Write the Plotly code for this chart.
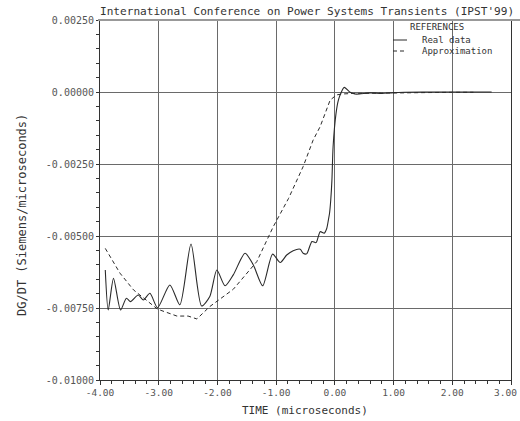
import plotly.graph_objects as go

# ---- data ----
real_t = [-3.91, -3.86, -3.77, -3.65, -3.55, -3.48, -3.35, -3.26, -3.15, -3.02,
          -2.81, -2.64, -2.45, -2.27, -2.13, -2.01, -1.87, -1.73, -1.53, -1.39,
          -1.23, -1.06, -0.93, -0.82, -0.71, -0.59, -0.54, -0.48, -0.39, -0.32,
          -0.25, -0.18, -0.14, -0.11, -0.09, -0.07, -0.05, -0.03, 0.02, 0.06,
          0.10, 0.16, 0.26, 0.34, 0.42, 0.60, 0.80, 1.00, 1.50, 2.00, 2.67]
real_g = [-0.00618, -0.00757, -0.00647, -0.00757, -0.00716, -0.00728, -0.00705, -0.00722, -0.00699, -0.00749,
          -0.00670, -0.00739, -0.00528, -0.00743, -0.00710, -0.00618, -0.00673, -0.00635, -0.00560, -0.00600,
          -0.00673, -0.00563, -0.00592, -0.00566, -0.00551, -0.00546, -0.00560, -0.00562, -0.00519, -0.00523,
          -0.00485, -0.00490, -0.00475, -0.00444, -0.00420, -0.00375, -0.00306, -0.00190, -0.00074, -0.00028,
          -0.00005, 0.00016, -0.00001, -0.00007, -0.00007, -0.00003, -0.00005, -0.00002, 0.0, 0.0, 0.0]

approx_t = [-3.91, -3.66, -3.43, -3.02, -2.69, -2.50, -2.35, -2.13, -1.73, -1.33,
            -1.05, -0.79, -0.54, -0.37, -0.25, -0.17, -0.08, 0.03, 0.12, 0.30,
            0.60, 1.00, 1.50, 2.00, 2.36]
approx_g = [-0.00543, -0.00629, -0.00687, -0.00754, -0.00778, -0.00778, -0.00788, -0.00745, -0.00685, -0.00589,
            -0.00468, -0.00370, -0.00259, -0.00167, -0.00120, -0.00074, -0.00028, -0.00010, -0.00007, -0.00005,
            -0.00004, -0.00003, -0.00002, -0.00001, -0.00001]

x_ticks = [-4, -3, -2, -1, 0, 1, 2, 3]
x_labels = ["-4.00", "-3.00", "-2.00", "-1.00", "0.00", "1.00", "2.00", "3.00"]
y_ticks = [0.0025, 0.0, -0.0025, -0.005, -0.0075, -0.01]
y_labels = ["0.00250", "0.00000", "-0.00250", "-0.00500", "-0.00750", "-0.01000"]

title_text = "International Conference on Power Systems Transients (IPST'99)"
x_title = "TIME (microseconds)"
y_title = "DG/DT (Siemens/microseconds)"
legend_title = "REFERENCES"
series_names = ["Real data", "Approximation"]

FONT = "DejaVu Sans Mono"
LINE = "#2a2a2a"

fig = go.Figure()
fig.add_trace(go.Scatter(x=real_t, y=real_g, mode="lines", name=series_names[0],
                         line=dict(color=LINE, width=1.1, shape="spline", smoothing=0.7)))
fig.add_trace(go.Scatter(x=approx_t, y=approx_g, mode="lines", name=series_names[1],
                         line=dict(color=LINE, width=1, dash="4px,3px")))

W, H = 520, 421
L, R, T, B = 100, 9, 20, 41
pw, ph = W - L - R, H - T - B


def px(x):
    return (x - L) / pw


def py(y):
    return (H - B - y) / ph


fig.update_layout(
    width=W, height=H,
    margin=dict(l=L, r=R, t=T, b=B, autoexpand=False),
    paper_bgcolor="white", plot_bgcolor="white",
    showlegend=False,
    font=dict(family=FONT, color="#444"),
)
# the last x label would spill past the page edge; it is drawn as a right-aligned annotation instead
x_ticktext = x_labels[:-1] + [""]
fig.update_xaxes(
    range=[-4, 3], tickvals=x_ticks, ticktext=x_ticktext,
    tickfont=dict(size=9.5, color="#555", family=FONT),
    automargin=False,
    showgrid=True, gridcolor="#6a6a6a", gridwidth=1,
    showline=True, linecolor="#333", linewidth=1,
    ticks="outside", ticklen=4, tickcolor="#333",
    minor=dict(dtick=0.2, ticks="outside", ticklen=3, tickcolor="#333", showgrid=False),
    zeroline=False,
)
fig.update_yaxes(
    range=[-0.01, 0.0025], tickvals=y_ticks, ticktext=y_labels,
    tickfont=dict(size=10, color="#555", family=FONT),
    ticklabeloverflow="allow", automargin=False,
    showgrid=True, gridcolor="#6a6a6a", gridwidth=1,
    showline=True, linecolor="#333", linewidth=1, mirror=True,
    ticks="outside", ticklen=3, tickcolor="#333",
    minor=dict(dtick=0.0005, ticks="outside", ticklen=3, tickcolor="#333", showgrid=False),
    zeroline=False,
)

ann = [
    dict(text=title_text, x=px(98), y=py(11), xref="paper", yref="paper",
         xanchor="left", yanchor="middle", showarrow=False,
         font=dict(size=11.1, color="#333", family=FONT)),
    dict(text=x_title, x=px(305), y=py(410), xref="paper", yref="paper",
         xanchor="center", yanchor="middle", showarrow=False,
         font=dict(size=11, color="#333", family=FONT)),
    dict(text=y_title, x=px(22), y=py(215), xref="paper", yref="paper",
         xanchor="center", yanchor="middle", showarrow=False, textangle=-90,
         font=dict(size=12, color="#333", family=FONT)),
    dict(text=legend_title, x=px(408), y=py(27), xref="paper", yref="paper",
         xanchor="left", yanchor="middle", showarrow=False,
         font=dict(size=9, color="#333", family=FONT)),
    dict(text=series_names[0], x=px(420), y=py(40), xref="paper", yref="paper",
         xanchor="left", yanchor="middle", showarrow=False,
         font=dict(size=9, color="#333", family=FONT)),
    dict(text=series_names[1], x=px(420), y=py(51), xref="paper", yref="paper",
         xanchor="left", yanchor="middle", showarrow=False,
         font=dict(size=9, color="#333", family=FONT)),
    dict(text=x_labels[-1], x=px(519), y=py(392), xref="paper", yref="paper",
         xanchor="right", yanchor="middle", showarrow=False,
         font=dict(size=9.5, color="#555", family=FONT)),
]
fig.update_layout(annotations=ann)

shapes = [
    dict(type="line", xref="paper", yref="paper", x0=px(98), x1=px(520), y0=1, y1=1,
         line=dict(color="#999", width=2)),
    dict(type="line", xref="paper", yref="paper", x0=px(393), x1=px(407), y0=py(40), y1=py(40),
         line=dict(color=LINE, width=1)),
    dict(type="line", xref="paper", yref="paper", x0=px(393), x1=px(407), y0=py(51), y1=py(51),
         line=dict(color=LINE, width=1, dash="4px,3px")),
]
fig.update_layout(shapes=shapes)

fig.write_html("out.html")
